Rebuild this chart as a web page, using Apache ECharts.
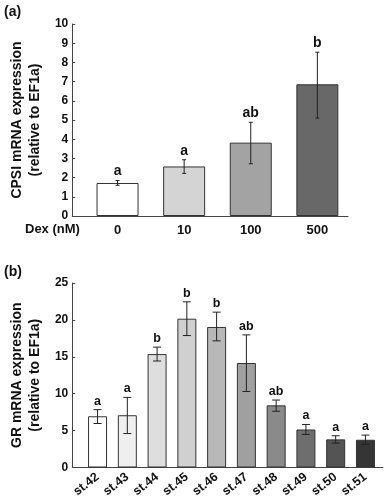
<!DOCTYPE html>
<html><head><meta charset="utf-8">
<script src="https://cdn.jsdelivr.net/npm/echarts@6/dist/echarts.min.js"></script>
<style>html,body{margin:0;padding:0;background:#fff}#c{width:387px;height:500px}</style>
</head><body><div id="c"></div>
<script>
// Panel (a)
const dexLabels = ['0', '10', '100', '500'];
const cpsiMean = [1.72, 2.58, 3.82, 6.86];
const cpsiLow = [1.60, 2.22, 2.72, 5.10];
const cpsiHigh = [1.85, 2.93, 4.88, 8.53];
const cpsiLetters = ['a', 'a', 'ab', 'b'];
const cpsiColors = ['#ffffff', '#d4d4d4', '#a3a3a3', '#686868'];
const cpsiTicks = [0, 1, 2, 3, 4, 5, 6, 7, 8, 9, 10];

// Panel (b)
const stages = ['st.42', 'st.43', 'st.44', 'st.45', 'st.46', 'st.47', 'st.48', 'st.49', 'st.50', 'st.51'];
const grMean = [6.94, 7.08, 15.37, 20.16, 19.04, 14.16, 8.42, 5.15, 3.81, 3.76];
const grLow = [5.96, 4.60, 14.43, 17.88, 17.16, 10.30, 7.62, 4.48, 3.31, 3.14];
const grHigh = [7.84, 9.50, 16.31, 22.45, 21.05, 17.97, 9.14, 5.82, 4.30, 4.39];
const grLetters = ['a', 'a', 'b', 'b', 'b', 'ab', 'ab', 'a', 'a', 'a'];
const grColors = ['#ffffff', '#efefef', '#dedede', '#d0d0d0', '#b8b8b8', '#a0a0a0', '#8a8a8a', '#6e6e6e', '#545454', '#353535'];
const grTicks = [0, 5, 10, 15, 20, 25];

const FONT = 'Liberation Sans, Arial, sans-serif';
const AX = '#444';

function barData(vals, colors) {
  return vals.map((v, i) => ({ value: [i, v], itemStyle: { color: colors[i] } }));
}
function errData(lo, hi) {
  return lo.map((l, i) => [i, l, hi[i]]);
}
function errRender(letters, capHalf, fontSize, gap) {
  return function (params, api) {
    const x = api.value(0);
    const pLo = api.coord([x, api.value(1)]);
    const pHi = api.coord([x, api.value(2)]);
    const st = { stroke: '#222', lineWidth: 1, fill: null };
    return {
      type: 'group',
      children: [
        { type: 'polyline', shape: { points: [[pLo[0], pLo[1]], [pHi[0], pHi[1]]] }, style: st },
        { type: 'polyline', shape: { points: [[pLo[0] - capHalf, pLo[1]], [pLo[0] + capHalf, pLo[1]]] }, style: st },
        { type: 'polyline', shape: { points: [[pHi[0] - capHalf, pHi[1]], [pHi[0] + capHalf, pHi[1]]] }, style: st },
        { type: 'text', x: pHi[0], y: pHi[1] - gap,
          style: { text: letters[params.dataIndex], align: 'center', verticalAlign: 'bottom',
            font: 'bold ' + fontSize + 'px ' + FONT, fill: '#111' } }
      ]
    };
  };
}

const chart = echarts.init(document.getElementById('c'), null, { renderer: 'canvas' });
chart.setOption({
  backgroundColor: '#fff',
  animation: false,
  graphic: [
    { type: 'text', left: 4, top: 5, style: { text: '(a)', font: 'bold 14px ' + FONT, fill: '#111' } },
    { type: 'text', left: 4, top: 265, style: { text: '(b)', font: 'bold 14px ' + FONT, fill: '#111' } },
    { type: 'text', left: 25, top: 223, style: { text: 'Dex (nM)', font: 'bold 13px ' + FONT, fill: '#111' } }
  ],
  grid: [
    { left: 63, right: 39, top: 24, bottom: 284 },
    { left: 63, right: 4, top: 283, bottom: 30 }
  ],
  xAxis: [
    { type: 'value', gridIndex: 0, min: -0.68, max: 3.46,
      axisLine: { show: true, onZero: false, lineStyle: { color: AX, width: 1 } },
      axisTick: { show: false }, splitLine: { show: false },
      axisLabel: { customValues: [0, 1, 2, 3], formatter: v => dexLabels[Math.round(v)], margin: 8,
        color: '#111', fontWeight: 'bold', fontSize: 13, fontFamily: FONT } },
    { type: 'value', gridIndex: 1, min: -0.85, max: 9.59,
      axisLine: { show: true, onZero: false, lineStyle: { color: AX, width: 1 } },
      axisTick: { show: false }, splitLine: { show: false },
      axisLabel: { customValues: [0, 1, 2, 3, 4, 5, 6, 7, 8, 9], formatter: v => stages[Math.round(v)], rotate: 38, margin: 8,
        color: '#111', fontWeight: 'bold', fontSize: 12.5, fontFamily: FONT } }
  ],
  yAxis: [
    { type: 'value', gridIndex: 0, min: cpsiTicks[0], max: cpsiTicks[cpsiTicks.length - 1], interval: 1,
      name: 'CPSI mRNA expression\n(relative to EF1a)', nameLocation: 'middle', nameRotate: 90, nameGap: 22,
      nameTextStyle: { fontWeight: 'bold', fontSize: 14, fontFamily: FONT, color: '#111', lineHeight: 18 },
      axisLine: { show: true, onZero: false, lineStyle: { color: AX, width: 1 } },
      axisTick: { show: true, inside: true, length: 3, lineStyle: { color: AX } },
      splitLine: { show: false },
      axisLabel: { margin: 4, color: '#111', fontWeight: 'bold', fontSize: 12, fontFamily: FONT } },
    { type: 'value', gridIndex: 1, min: grTicks[0], max: grTicks[grTicks.length - 1], interval: 5,
      name: 'GR mRNA expression\n(relative to EF1a)', nameLocation: 'middle', nameRotate: 90, nameGap: 22,
      nameTextStyle: { fontWeight: 'bold', fontSize: 14, fontFamily: FONT, color: '#111', lineHeight: 18 },
      axisLine: { show: true, onZero: false, lineStyle: { color: AX, width: 1 } },
      axisTick: { show: true, inside: true, length: 3, lineStyle: { color: AX } },
      splitLine: { show: false },
      axisLabel: { margin: 4, color: '#111', fontWeight: 'bold', fontSize: 12, fontFamily: FONT } }
  ],
  series: [
    { type: 'bar', xAxisIndex: 0, yAxisIndex: 0, barWidth: 42, data: barData(cpsiMean, cpsiColors),
      itemStyle: { borderColor: '#333', borderWidth: 1 } },
    { type: 'custom', xAxisIndex: 0, yAxisIndex: 0, renderItem: errRender(cpsiLetters, 2, 14, 2),
      encode: { x: 0, y: [1, 2] }, data: errData(cpsiLow, cpsiHigh), z: 5 },
    { type: 'bar', xAxisIndex: 1, yAxisIndex: 1, barWidth: 19, data: barData(grMean, grColors),
      itemStyle: { borderColor: '#333', borderWidth: 1 } },
    { type: 'custom', xAxisIndex: 1, yAxisIndex: 1, renderItem: errRender(grLetters, 4, 12.5, 2),
      encode: { x: 0, y: [1, 2] }, data: errData(grLow, grHigh), z: 5 }
  ]
});
</script></body></html>
